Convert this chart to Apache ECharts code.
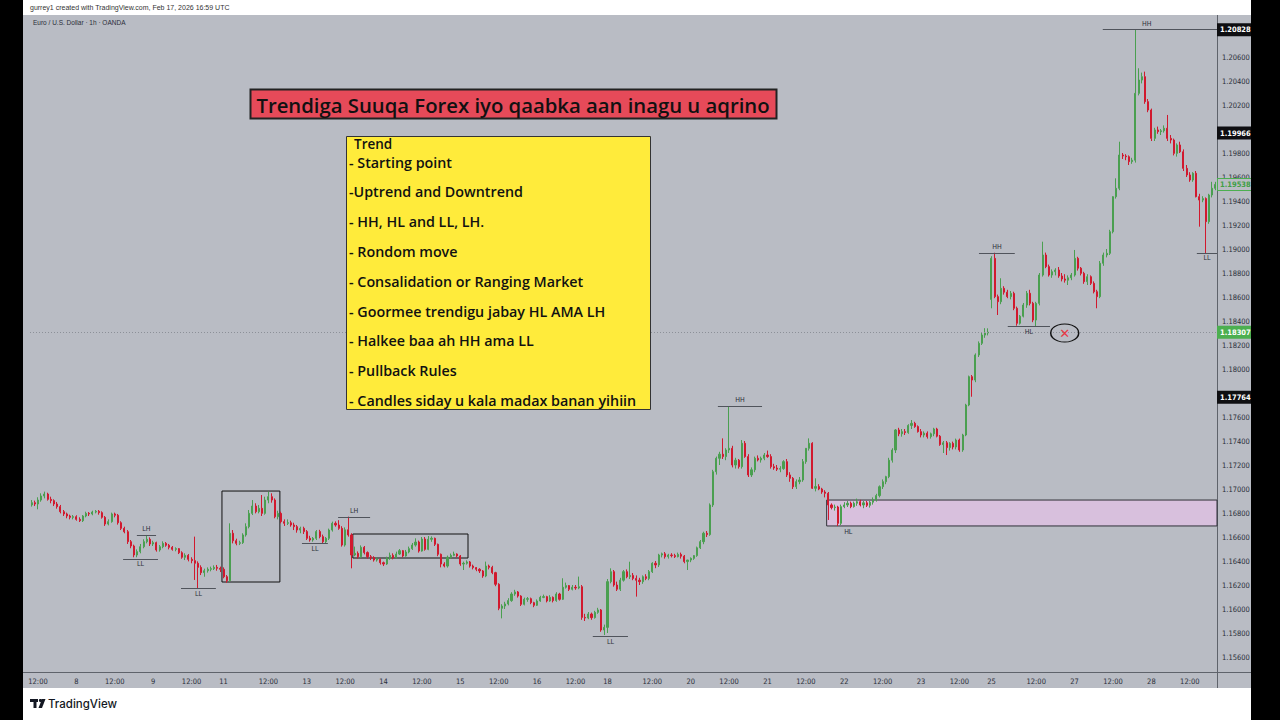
<!DOCTYPE html>
<html>
<head>
<meta charset="utf-8">
<script src="https://cdn.jsdelivr.net/npm/echarts@6/dist/echarts.min.js"></script>
<style>
html,body{margin:0;padding:0;background:#fff;}
#chart{width:1280px;height:720px;}
</style>
</head>
<body>
<div id="chart"></div>
<script>
// ---- DATA: hourly candles [open, high, low, close] (EUR/USD 1h, OANDA) ----
// Week 1: Jan 7 10:00 -> Jan 9 21:00
const week1 = [
[1.16867,1.16908,1.16853,1.16886],[1.16886,1.16903,1.16858,1.16875],[1.16875,1.16931,1.16831,1.16908],[1.16908,1.16964,1.16894,1.16942],[1.16942,1.16978,1.16922,1.16958],
[1.16958,1.16969,1.16903,1.16914],[1.16914,1.16936,1.16881,1.16903],[1.16903,1.16914,1.16858,1.16875],[1.16875,1.16892,1.16836,1.16853],[1.16853,1.16867,1.16797,1.16811],
[1.16811,1.16825,1.16775,1.16792],[1.16792,1.16803,1.16756,1.16775],[1.16775,1.16786,1.16747,1.16764],[1.16764,1.16783,1.16747,1.16769],[1.16769,1.16781,1.16736,1.16747],
[1.16747,1.16764,1.16725,1.16736],[1.16736,1.16783,1.16725,1.16775],[1.16775,1.16811,1.16764,1.16797],[1.16797,1.16808,1.16775,1.16792],[1.16792,1.16819,1.16781,1.16808],
[1.16808,1.16825,1.16797,1.16814],[1.16814,1.16825,1.16786,1.16803],[1.16803,1.16814,1.16753,1.16764],[1.16764,1.16775,1.16692,1.16708],[1.16708,1.16747,1.16697,1.16728],
[1.16728,1.16803,1.16719,1.16792],[1.16792,1.16803,1.16764,1.16781],[1.16781,1.16792,1.16703,1.16719],[1.16719,1.16731,1.16658,1.16672],[1.16672,1.16686,1.16631,1.16644],
[1.16644,1.16658,1.16542,1.16561],[1.16561,1.16575,1.16506,1.16525],[1.16525,1.16536,1.16431,1.16450],[1.16450,1.16497,1.16431,1.16478],[1.16478,1.16542,1.16464,1.16519],
[1.16519,1.16581,1.16506,1.16561],[1.16561,1.16617,1.16547,1.16581],[1.16581,1.16597,1.16525,1.16542],[1.16542,1.16569,1.16525,1.16553],[1.16553,1.16561,1.16478,1.16492],
[1.16492,1.16533,1.16478,1.16519],[1.16519,1.16564,1.16506,1.16547],[1.16547,1.16558,1.16519,1.16531],[1.16531,1.16542,1.16497,1.16514],[1.16514,1.16525,1.16486,1.16497],
[1.16497,1.16514,1.16481,1.16503],[1.16503,1.16508,1.16458,1.16469],[1.16469,1.16481,1.16419,1.16431],[1.16431,1.16464,1.16408,1.16447],[1.16447,1.16458,1.16397,1.16414],
[1.16414,1.16431,1.16381,1.16403],[1.16403,1.16603,1.16242,1.16381],[1.16381,1.16397,1.16172,1.16347],[1.16347,1.16364,1.16283,1.16303],[1.16303,1.16336,1.16269,1.16319],
[1.16319,1.16347,1.16303,1.16331],[1.16331,1.16353,1.16314,1.16336],[1.16336,1.16364,1.16325,1.16347],[1.16347,1.16367,1.16319,1.16339],[1.16339,1.16353,1.16308,1.16331]
];
// Week 2: Jan 11 22:00 -> Jan 16 21:00
const week2 = [
[1.16331,1.16347,1.16256,1.16269],[1.16269,1.16283,1.16219,1.16236],[1.16236,1.16714,1.16225,1.16631],[1.16631,1.16658,1.16547,1.16569],[1.16569,1.16586,1.16531,1.16547],
[1.16547,1.16569,1.16533,1.16553],[1.16553,1.16631,1.16542,1.16617],[1.16617,1.16714,1.16603,1.16686],[1.16686,1.16825,1.16672,1.16797],[1.16797,1.16908,1.16783,1.16858],
[1.16858,1.16881,1.16797,1.16811],[1.16811,1.16867,1.16797,1.16839],[1.16839,1.16950,1.16775,1.16797],[1.16797,1.16936,1.16786,1.16908],[1.16908,1.16978,1.16881,1.16936],
[1.16936,1.16964,1.16886,1.16908],[1.16908,1.16922,1.16756,1.16769],[1.16769,1.16819,1.16747,1.16797],[1.16797,1.16811,1.16714,1.16728],[1.16728,1.16747,1.16692,1.16714],
[1.16714,1.16747,1.16700,1.16719],[1.16719,1.16736,1.16686,1.16700],[1.16700,1.16719,1.16658,1.16686],[1.16686,1.16700,1.16636,1.16658],[1.16658,1.16686,1.16631,1.16672],
[1.16672,1.16686,1.16625,1.16645],[1.16645,1.16658,1.16575,1.16589],[1.16589,1.16610,1.16561,1.16575],[1.16575,1.16600,1.16561,1.16589],[1.16589,1.16658,1.16575,1.16645],
[1.16645,1.16660,1.16589,1.16603],[1.16603,1.16620,1.16550,1.16561],[1.16561,1.16600,1.16547,1.16589],[1.16589,1.16670,1.16575,1.16658],[1.16658,1.16728,1.16645,1.16714],
[1.16714,1.16730,1.16686,1.16700],[1.16700,1.16740,1.16660,1.16672],[1.16672,1.16690,1.16520,1.16533],[1.16533,1.16680,1.16520,1.16660],[1.16660,1.16770,1.16603,1.16617],
[1.16617,1.16631,1.16339,1.16450],[1.16450,1.16520,1.16440,1.16464],[1.16464,1.16480,1.16420,1.16436],[1.16436,1.16530,1.16425,1.16514],[1.16514,1.16525,1.16455,1.16470],
[1.16470,1.16480,1.16420,1.16436],[1.16436,1.16450,1.16408,1.16428],[1.16428,1.16440,1.16395,1.16408],[1.16408,1.16430,1.16395,1.16414],[1.16414,1.16420,1.16370,1.16386],
[1.16386,1.16395,1.16358,1.16375],[1.16375,1.16436,1.16367,1.16422],[1.16422,1.16470,1.16410,1.16447],[1.16447,1.16464,1.16414,1.16428],[1.16428,1.16478,1.16420,1.16458],
[1.16458,1.16500,1.16450,1.16486],[1.16486,1.16492,1.16430,1.16442],[1.16442,1.16492,1.16436,1.16475],[1.16475,1.16520,1.16464,1.16503],[1.16503,1.16550,1.16492,1.16533],
[1.16533,1.16589,1.16520,1.16558],[1.16558,1.16570,1.16470,1.16483],[1.16483,1.16600,1.16478,1.16583],[1.16583,1.16600,1.16486,1.16497],[1.16497,1.16608,1.16490,1.16581],
[1.16581,1.16605,1.16560,1.16589],[1.16589,1.16595,1.16525,1.16539],[1.16539,1.16545,1.16440,1.16456],[1.16456,1.16462,1.16347,1.16375],[1.16375,1.16390,1.16347,1.16358],
[1.16358,1.16445,1.16345,1.16431],[1.16431,1.16462,1.16420,1.16447],[1.16447,1.16478,1.16440,1.16458],[1.16458,1.16464,1.16430,1.16442],[1.16442,1.16450,1.16360,1.16375],
[1.16375,1.16395,1.16325,1.16381],[1.16381,1.16405,1.16370,1.16392],[1.16392,1.16400,1.16345,1.16358],[1.16358,1.16370,1.16330,1.16345],[1.16345,1.16350,1.16315,1.16331],
[1.16331,1.16340,1.16300,1.16317],[1.16317,1.16325,1.16260,1.16275],[1.16275,1.16395,1.16265,1.16358],[1.16358,1.16370,1.16330,1.16347],[1.16347,1.16360,1.16290,1.16303],
[1.16303,1.16310,1.16190,1.16206],[1.16206,1.16215,1.15990,1.16006],[1.16006,1.16040,1.15922,1.16025],[1.16025,1.16060,1.16000,1.16042],[1.16042,1.16090,1.16030,1.16070],
[1.16070,1.16140,1.16060,1.16125],[1.16125,1.16160,1.16110,1.16142],[1.16142,1.16150,1.16095,1.16108],[1.16108,1.16115,1.16025,1.16039],[1.16039,1.16095,1.16030,1.16081],
[1.16081,1.16100,1.16060,1.16086],[1.16086,1.16095,1.16040,1.16053],[1.16053,1.16060,1.16015,1.16031],[1.16031,1.16080,1.16025,1.16067],[1.16067,1.16110,1.16060,1.16097],
[1.16097,1.16120,1.16090,1.16103],[1.16103,1.16110,1.16055,1.16067],[1.16067,1.16115,1.16060,1.16097],[1.16097,1.16105,1.16055,1.16070],[1.16070,1.16140,1.16060,1.16125],
[1.16125,1.16135,1.16070,1.16081],[1.16081,1.16256,1.16075,1.16181],[1.16181,1.16220,1.16170,1.16195],[1.16195,1.16200,1.16150,1.16164],[1.16164,1.16200,1.16155,1.16181],
[1.16181,1.16200,1.16160,1.16175],[1.16175,1.16270,1.16165,1.16186],[1.16186,1.16200,1.15910,1.15930],[1.15930,1.15960,1.15900,1.15925],[1.15925,1.15975,1.15915,1.15958],
[1.15958,1.15970,1.15910,1.15928],[1.15928,1.15985,1.15920,1.15972],[1.15972,1.16010,1.15960,1.15992],[1.15992,1.16000,1.15810,1.15825],[1.15825,1.15870,1.15783,1.15847]
];
// Week 3: Jan 18 22:00 -> Jan 23 21:00
const week3 = [
[1.15847,1.16250,1.15800,1.16228],[1.16228,1.16339,1.16214,1.16311],[1.16311,1.16325,1.16186,1.16200],[1.16200,1.16228,1.16150,1.16165],[1.16165,1.16260,1.16150,1.16240],
[1.16240,1.16325,1.16228,1.16311],[1.16311,1.16330,1.16256,1.16269],[1.16269,1.16394,1.16250,1.16280],[1.16280,1.16300,1.16240,1.16255],[1.16255,1.16280,1.16103,1.16240],
[1.16240,1.16260,1.16200,1.16228],[1.16228,1.16280,1.16210,1.16269],[1.16269,1.16290,1.16240,1.16255],[1.16255,1.16325,1.16240,1.16311],[1.16311,1.16390,1.16300,1.16381],
[1.16381,1.16400,1.16340,1.16367],[1.16367,1.16460,1.16350,1.16450],[1.16450,1.16470,1.16430,1.16460],[1.16460,1.16475,1.16420,1.16436],[1.16436,1.16460,1.16420,1.16450],
[1.16450,1.16465,1.16430,1.16445],[1.16445,1.16460,1.16425,1.16436],[1.16436,1.16470,1.16430,1.16455],[1.16455,1.16470,1.16420,1.16440],[1.16440,1.16450,1.16381,1.16395],
[1.16395,1.16410,1.16325,1.16408],[1.16408,1.16430,1.16390,1.16422],[1.16422,1.16450,1.16410,1.16445],[1.16445,1.16520,1.16435,1.16510],[1.16510,1.16575,1.16500,1.16561],
[1.16561,1.16644,1.16540,1.16631],[1.16631,1.16650,1.16600,1.16620],[1.16620,1.16880,1.16610,1.16867],[1.16867,1.17160,1.16850,1.17144],[1.17144,1.17270,1.17120,1.17256],
[1.17256,1.17310,1.17200,1.17290],[1.17290,1.17422,1.17250,1.17270],[1.17270,1.17340,1.17240,1.17325],[1.17325,1.17686,1.17300,1.17339],[1.17339,1.17360,1.17180,1.17200],
[1.17200,1.17260,1.17170,1.17240],[1.17240,1.17250,1.17170,1.17186],[1.17186,1.17408,1.17170,1.17381],[1.17381,1.17400,1.17260,1.17270],[1.17270,1.17290,1.17100,1.17117],
[1.17117,1.17180,1.17100,1.17160],[1.17160,1.17270,1.17140,1.17256],[1.17256,1.17280,1.17230,1.17242],[1.17242,1.17270,1.17220,1.17256],[1.17256,1.17300,1.17240,1.17283],
[1.17283,1.17320,1.17260,1.17270],[1.17270,1.17290,1.17170,1.17186],[1.17186,1.17210,1.17160,1.17175],[1.17175,1.17200,1.17150,1.17165],[1.17165,1.17190,1.17140,1.17170],
[1.17170,1.17240,1.17160,1.17228],[1.17228,1.17250,1.17100,1.17117],[1.17117,1.17140,1.17060,1.17089],[1.17089,1.17100,1.17000,1.17019],[1.17019,1.17080,1.17000,1.17061],
[1.17061,1.17100,1.17040,1.17075],[1.17075,1.17250,1.17060,1.17228],[1.17228,1.17340,1.17210,1.17339],[1.17339,1.17422,1.17320,1.17381],[1.17381,1.17390,1.17000,1.17006],
[1.17006,1.17089,1.16980,1.17020],[1.17020,1.17040,1.16990,1.17000],[1.17000,1.17010,1.16960,1.16975],[1.16975,1.16990,1.16930,1.16964],[1.16964,1.16975,1.16742,1.16867],
[1.16867,1.16880,1.16830,1.16845],[1.16845,1.16870,1.16820,1.16850],[1.16850,1.16860,1.16692,1.16714],[1.16714,1.16870,1.16700,1.16853],[1.16853,1.16890,1.16840,1.16867],
[1.16867,1.16900,1.16850,1.16881],[1.16881,1.16895,1.16840,1.16853],[1.16853,1.16895,1.16845,1.16881],[1.16881,1.16920,1.16860,1.16894],[1.16894,1.16910,1.16855,1.16867],
[1.16867,1.16900,1.16840,1.16885],[1.16885,1.16900,1.16850,1.16864],[1.16864,1.16900,1.16845,1.16890],[1.16890,1.16930,1.16870,1.16910],[1.16910,1.16960,1.16895,1.16945],
[1.16945,1.17030,1.16930,1.17019],[1.17019,1.17080,1.17000,1.17061],[1.17061,1.17110,1.17040,1.17103],[1.17103,1.17260,1.17090,1.17240],[1.17240,1.17340,1.17220,1.17325],
[1.17325,1.17500,1.17300,1.17492],[1.17492,1.17510,1.17440,1.17460],[1.17460,1.17500,1.17436,1.17478],[1.17478,1.17500,1.17450,1.17470],[1.17470,1.17540,1.17460,1.17530],
[1.17530,1.17575,1.17500,1.17547],[1.17547,1.17560,1.17510,1.17520],[1.17520,1.17530,1.17470,1.17478],[1.17478,1.17500,1.17430,1.17450],[1.17450,1.17480,1.17430,1.17465],
[1.17465,1.17480,1.17420,1.17436],[1.17436,1.17470,1.17420,1.17460],[1.17460,1.17510,1.17440,1.17500],[1.17500,1.17510,1.17430,1.17440],[1.17440,1.17450,1.17360,1.17370],
[1.17370,1.17400,1.17300,1.17385],[1.17385,1.17400,1.17283,1.17345],[1.17345,1.17390,1.17320,1.17380],[1.17380,1.17395,1.17330,1.17350],[1.17350,1.17420,1.17330,1.17408],
[1.17408,1.17420,1.17310,1.17325],[1.17325,1.17460,1.17310,1.17450],[1.17450,1.17710,1.17440,1.17700],[1.17700,1.17945,1.17690,1.17936],[1.17936,1.17950,1.17769,1.17908],
[1.17908,1.18130,1.17890,1.18117],[1.18117,1.18230,1.18100,1.18214],[1.18214,1.18300,1.18200,1.18283],[1.18283,1.18340,1.18260,1.18300],[1.18300,1.18339,1.18280,1.18307]
];
// Week 4: Jan 25 22:00 -> Jan 28 20:00
const week4 = [
[1.18580,1.18940,1.18506,1.18922],[1.18922,1.18969,1.18590,1.18603],[1.18603,1.18620,1.18450,1.18561],[1.18561,1.18756,1.18540,1.18672],[1.18672,1.18690,1.18620,1.18640],
[1.18640,1.18660,1.18590,1.18603],[1.18603,1.18650,1.18580,1.18630],[1.18630,1.18644,1.18490,1.18506],[1.18506,1.18520,1.18361,1.18381],[1.18381,1.18450,1.18370,1.18440],
[1.18440,1.18550,1.18430,1.18533],[1.18533,1.18650,1.18510,1.18631],[1.18631,1.18660,1.18530,1.18547],[1.18547,1.18560,1.18390,1.18408],[1.18408,1.18560,1.18353,1.18547],
[1.18547,1.18800,1.18530,1.18783],[1.18783,1.19061,1.18770,1.18950],[1.18950,1.18970,1.18840,1.18853],[1.18853,1.18870,1.18770,1.18783],[1.18783,1.18830,1.18760,1.18811],
[1.18811,1.18840,1.18780,1.18825],[1.18825,1.18850,1.18760,1.18775],[1.18775,1.18800,1.18730,1.18750],[1.18750,1.18790,1.18720,1.18740],[1.18740,1.18780,1.18700,1.18760],
[1.18760,1.18800,1.18740,1.18783],[1.18783,1.18992,1.18770,1.18922],[1.18922,1.18935,1.18820,1.18840],[1.18840,1.18850,1.18780,1.18797],[1.18797,1.18810,1.18710,1.18728],
[1.18728,1.18790,1.18700,1.18769],[1.18769,1.18780,1.18700,1.18714],[1.18714,1.18730,1.18630,1.18644],[1.18644,1.18660,1.18506,1.18603],[1.18603,1.18900,1.18590,1.18881],
[1.18881,1.18970,1.18860,1.18950],[1.18950,1.19000,1.18930,1.18964],[1.18964,1.19160,1.18950,1.19144],[1.19144,1.19440,1.19130,1.19436],[1.19436,1.19589,1.19420,1.19506],
[1.19506,1.19894,1.19490,1.19783],[1.19783,1.19800,1.19750,1.19775],[1.19775,1.19790,1.19740,1.19769],[1.19769,1.19780,1.19700,1.19728],[1.19728,1.19760,1.19710,1.19740],
[1.19740,1.20825,1.19720,1.20297],[1.20297,1.20506,1.20280,1.20408],[1.20408,1.20470,1.20380,1.20436],[1.20436,1.20478,1.20210,1.20228],[1.20228,1.20250,1.20140,1.20158],
[1.20158,1.20170,1.19900,1.19922],[1.19922,1.20010,1.19900,1.19992],[1.19992,1.20020,1.19960,1.19978],[1.19978,1.20000,1.19950,1.19985],[1.19985,1.20030,1.19970,1.20006],
[1.20006,1.20117,1.19900,1.19922],[1.19922,1.19950,1.19880,1.19908],[1.19908,1.19920,1.19780,1.19797],[1.19797,1.19880,1.19770,1.19867],[1.19867,1.19894,1.19800,1.19810],
[1.19810,1.19830,1.19650,1.19672],[1.19672,1.19700,1.19600,1.19617],[1.19617,1.19640,1.19560,1.19575],[1.19575,1.19640,1.19560,1.19631],[1.19631,1.19650,1.19430,1.19436],
[1.19436,1.19460,1.19186,1.19408],[1.19408,1.19440,1.19390,1.19420],[1.19420,1.19430,1.18964,1.19228],[1.19228,1.19460,1.19210,1.19450],[1.19450,1.19560,1.19430,1.19506],
[1.19506,1.19560,1.19490,1.19538]
];

// time-axis tick positions (bar index) and their labels
const xTickIdx    = [2, 14, 26, 38, 50, 60, 74, 86, 98, 110, 122, 134, 146, 158, 170, 180, 194, 206, 218, 230, 242, 254, 266, 278, 290, 300, 314, 326, 338, 350, 362];
const xTickLabels = ['12:00','8','12:00','9','12:00','11','12:00','13','12:00','14','12:00','15','12:00','16','12:00','18','12:00','20','12:00','21','12:00','22','12:00','23','12:00','25','12:00','27','12:00','28','12:00'];
// price-scale tick labels (those hidden behind the highlighted price tags are left out)
const priceTicks = [1.156,1.158,1.160,1.162,1.164,1.166,1.168,1.170,1.172,1.174,1.176,1.180,1.182,1.184,1.186,1.188,1.190,1.192,1.194,1.196,1.198,1.202,1.204,1.206];
// highlighted price-scale values
const priceHH = 1.20828, priceBlackA = 1.19966, priceBlackB = 1.17764, priceLast = 1.19538, priceLine = 1.18307;

// swing annotations: [label, startIdx, endIdx, price, labelSide]
const swingLabels = [
  ['LH', 32.9, 38.9, 1.16617, 'top'],
  ['LL', 28.6, 39.5, 1.16417, 'bottom'],
  ['LL', 46.7, 57.6, 1.16175, 'bottom'],
  ['LL', 84.5, 92.6, 1.16550, 'bottom'],
  ['LH', 95.8, 105.8, 1.16767, 'top'],
  ['LL', 175.4, 186.4, 1.15775, 'bottom'],
  ['HH', 214.5, 228.3, 1.17692, 'top'],
  ['HH', 296.1, 307.3, 1.18967, 'top'],
  ['HL', 305.1, 318.3, 1.18358, 'bottom'],
  ['LL', 364.2, 370.5, 1.18967, 'bottom']
];
// rectangles: [startIdx, endIdx, topPrice, bottomPrice]
const boxRange1 = [59.5, 77.6, 1.16983, 1.16225];
const boxRange2 = [100.4, 136.4, 1.16625, 1.16425];
const zoneHL    = [248.5, 370.5, 1.16908, 1.16692];
const crossMark = [322.9, 1.18300];

const titleText = 'Trendiga Suuqa Forex iyo qaabka aan inagu u aqrino';
const noteLines = ['Trend','- Starting point','-Uptrend and Downtrend','- HH, HL and LL, LH.','- Rondom move','- Consalidation or Ranging Market','- Goormee trendigu jabay HL AMA LH','- Halkee baa ah HH ama LL','- Pullback Rules','- Candles siday u kala madax banan yihiin'];
const noteY = [143.5, 162.5, 191, 221, 251, 281, 311, 340, 370, 400];

// ---- build ----
const allRows = week1.concat(week2, week3, week4);
const candleData = allRows.map((r, i) => [i, r[0], r[3], r[2], r[1]]);
const xLabelMap = {};
xTickIdx.forEach((v, k) => { xLabelMap[v] = xTickLabels[k]; });

const AX_FONT = "'Liberation Sans Narrow','DejaVu Sans Condensed','Liberation Sans',sans-serif";
const NOTE_FONT = "600 14.3px 'Open Sans', Lato, sans-serif";
const HEAD_FONT = "600 13.5px 'Open Sans', Lato, sans-serif";
const PANEL = '#b9bcc4';
const UP = '#4a9f50', DOWN = '#d1192e';
const CLEAR = 'rgba(0,0,0,0)';

const priceLabel = (bg, fg, border, txt) => ({
  show: true, position: 'end', distance: 1, formatter: txt,
  backgroundColor: bg, color: fg, borderColor: border || bg, borderWidth: 1,
  padding: [2, 2, 1, 2], fontSize: 7.5, fontWeight: 'bold', fontFamily: AX_FONT
});
const SEG = { color: '#50545c', width: 1, type: 'solid' };
const HIDDEN = { color: CLEAR, width: 1, type: 'solid' };

const markLines = [
  { yAxis: priceLine, lineStyle: { type: [1, 2], color: '#8c9098', width: 1 }, label: priceLabel('#4caf50', '#ffffff', null, priceLine.toFixed(5)) },
  { yAxis: priceBlackA, lineStyle: HIDDEN, label: priceLabel('#0f0f12', '#ffffff', null, priceBlackA.toFixed(5)) },
  { yAxis: priceBlackB, lineStyle: HIDDEN, label: priceLabel('#0f0f12', '#ffffff', null, priceBlackB.toFixed(5)) },
  { yAxis: priceLast, lineStyle: HIDDEN, label: priceLabel(PANEL, '#3f9f45', '#4caf50', priceLast.toFixed(5)) },
  { yAxis: priceHH, lineStyle: HIDDEN, label: priceLabel('#0f0f12', '#ffffff', null, priceHH.toFixed(5)) },
  [ { coord: [334.8, priceHH], lineStyle: SEG, label: { show: false } }, { coord: [370.5, priceHH] } ],
  [ { coord: [334.8, priceHH], lineStyle: HIDDEN, label: { show: true, formatter: 'HH', position: 'insideMiddleTop', distance: 2, color: '#2a2e39', fontSize: 7, fontFamily: AX_FONT } }, { coord: [362.3, priceHH] } ],
  [ { coord: [248.5, zoneHL[3]], lineStyle: HIDDEN, label: { show: true, formatter: 'HL', position: 'insideMiddleBottom', distance: 3, color: '#2a2e39', fontSize: 7, fontFamily: AX_FONT } }, { coord: [262.0, zoneHL[3]] } ]
];
swingLabels.forEach(s => {
  markLines.push([
    { coord: [s[1], s[3]], lineStyle: SEG,
      label: { show: true, formatter: s[0], position: s[4] === 'top' ? 'insideMiddleTop' : 'insideMiddleBottom', distance: 2, color: '#2a2e39', fontSize: 7, fontFamily: AX_FONT } },
    { coord: [s[2], s[3]] }
  ]);
});

const boxStyle = { color: CLEAR, borderColor: '#111111', borderWidth: 1 };

const graphics = [
  { type: 'rect', z: -20, shape: { x: 23, y: 15, width: 1228, height: 673 }, style: { fill: PANEL } },
  { type: 'rect', z: 200, shape: { x: 0, y: 0, width: 23, height: 720 }, style: { fill: '#000000' } },
  { type: 'rect', z: 200, shape: { x: 1251, y: 0, width: 29, height: 720 }, style: { fill: '#000000' } },
  { type: 'line', z: -5, shape: { x1: 1217.5, y1: 15, x2: 1217.5, y2: 688 }, style: { stroke: '#5f636b', lineWidth: 1 } },
  { type: 'line', z: -5, shape: { x1: 23, y1: 672.5, x2: 1251, y2: 672.5 }, style: { stroke: '#5f636b', lineWidth: 1 } },
  { type: 'text', z: 50, style: { text: 'gurrey1 created with TradingView.com, Feb 17, 2026 16:59 UTC', x: 30, y: 7.5, verticalAlign: 'middle', fill: '#333333', font: "7px 'Liberation Sans', sans-serif" } },
  { type: 'text', z: 50, style: { text: 'Euro / U.S. Dollar · 1h · OANDA', x: 33, y: 22, verticalAlign: 'middle', fill: '#2a2e39', font: "6.5px 'Liberation Sans', sans-serif" } },
  { type: 'rect', z: 100, shape: { x: 250.5, y: 89.5, width: 526, height: 29 }, style: { fill: '#e64a59', stroke: '#222222', lineWidth: 2 } },
  { type: 'text', z: 101, style: { text: titleText, x: 513, y: 104.5, align: 'center', verticalAlign: 'middle', fill: '#111111', font: "600 20.3px 'Open Sans', Lato, sans-serif" } },
  { type: 'rect', z: 100, shape: { x: 346.5, y: 136.5, width: 304, height: 273 }, style: { fill: '#ffeb3b', stroke: '#333333', lineWidth: 1 } },
  { type: 'rect', z: 50, shape: { x: 30, y: 699, width: 8, height: 3 }, style: { fill: '#131722' } },
  { type: 'rect', z: 50, shape: { x: 33.5, y: 699, width: 3, height: 9 }, style: { fill: '#131722' } },
  { type: 'circle', z: 50, shape: { cx: 40.5, cy: 700.5, r: 1.6 }, style: { fill: '#131722' } },
  { type: 'polygon', z: 50, shape: { points: [[42, 699], [45.5, 699], [42, 708], [38.5, 708]] }, style: { fill: '#131722' } },
  { type: 'text', z: 50, style: { text: 'TradingView', x: 48, y: 704, verticalAlign: 'middle', fill: '#131722', font: "500 11.5px Inter, 'Liberation Sans', sans-serif" } }
];
noteLines.forEach((t, k) => {
  graphics.push({ type: 'text', z: 101, style: { text: t, x: k === 0 ? 354 : 349, y: noteY[k], verticalAlign: 'middle', fill: '#111111', font: k === 0 ? HEAD_FONT : NOTE_FONT } });
});

const chart = echarts.init(document.getElementById('chart'), null, { renderer: 'svg', width: 1280, height: 720 });
chart.setOption({
  animation: false,
  backgroundColor: '#ffffff',
  grid: { left: 30, right: 63, top: 15, bottom: 48, show: false },
  xAxis: {
    type: 'value', min: -0.5, max: 370.5,
    axisLine: { show: true, onZero: false, lineStyle: { color: '#5f636b', width: 1 } },
    axisTick: { show: false }, splitLine: { show: false },
    axisLabel: { customValues: xTickIdx, formatter: v => xLabelMap[v] || '', color: '#2a2e39', fontSize: 7.5, margin: 5, fontFamily: AX_FONT, hideOverlap: false }
  },
  yAxis: {
    type: 'value', position: 'right', min: 1.15475, max: 1.2095,
    axisLine: { show: false, onZero: false },
    axisTick: { show: false }, splitLine: { show: false },
    axisLabel: { customValues: priceTicks, formatter: v => v.toFixed(5), color: '#2a2e39', fontSize: 7.5, margin: 5, fontFamily: AX_FONT, hideOverlap: false }
  },
  graphic: graphics,
  series: [{
    type: 'candlestick',
    data: candleData,
    encode: { x: 0, y: [1, 2, 3, 4] },
    barWidth: 1.6,
    clip: false,
    itemStyle: { color: UP, color0: DOWN, borderColor: UP, borderColor0: DOWN, borderWidth: 1 },
    markArea: {
      silent: true,
      data: [
        [ { xAxis: boxRange1[0], yAxis: boxRange1[2], itemStyle: boxStyle }, { xAxis: boxRange1[1], yAxis: boxRange1[3] } ],
        [ { xAxis: boxRange2[0], yAxis: boxRange2[2], itemStyle: boxStyle }, { xAxis: boxRange2[1], yAxis: boxRange2[3] } ],
        [ { xAxis: zoneHL[0], yAxis: zoneHL[2], itemStyle: { color: '#d8c0dd', borderColor: '#2f3138', borderWidth: 1 } }, { xAxis: zoneHL[1], yAxis: zoneHL[3] } ]
      ]
    },
    markLine: { silent: true, symbol: ['none', 'none'], precision: 5, animation: false, data: markLines },
    markPoint: {
      silent: true, animation: false,
      data: [
        { coord: crossMark, symbol: 'circle', symbolSize: [28, 18], itemStyle: { color: CLEAR, borderColor: '#111111', borderWidth: 1.2 },
          label: { show: true, position: 'inside', formatter: '✕', color: '#e53945', fontSize: 13, fontFamily: "'DejaVu Sans', sans-serif" } }
      ]
    }
  }]
});
</script>
</body>
</html>
